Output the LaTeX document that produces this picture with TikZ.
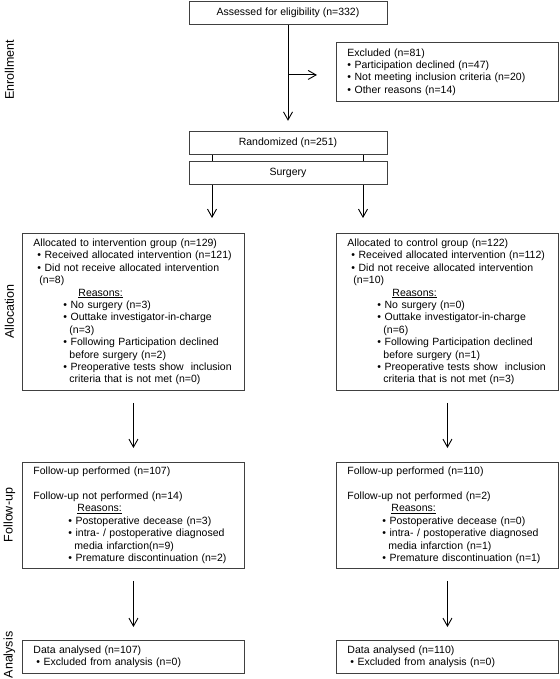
\documentclass[tikz,border=0pt]{standalone}
\usepackage{fontspec}
\setmainfont{Liberation Sans}
\usetikzlibrary{arrows.meta}
\definecolor{boxgray}{gray}{0.25}
\tikzset{
  txt/.style={font=\fontsize{10.5}{12.4}\selectfont},
  box/.style={draw=boxgray, line width=0.9pt, txt, inner ysep=0pt},
  midbox/.style={box, minimum width=198pt, minimum height=23.5pt, inner xsep=0pt},
  listbox/.style={box, anchor=north west, minimum width=222pt, text width=200pt, inner xsep=11pt, align=left},
  phase/.style={font=\fontsize{12.5}{14}\selectfont, rotate=90},
  arr/.style={-{Straight Barb[length=8pt,width=9pt]}, line width=0.9pt},
}
\begin{document}
\begin{tikzpicture}[x=1pt,y=1pt]
    \useasboundingbox (0,0) rectangle (559,-679);

    \node[phase] (enrol) at (9.5,-70){Enrollment};
    \node[phase] (alloc) at (9.5,-311.5){Allocation};
    \node[phase] (follow) at (9.5,-515){Follow-up};
    \node[phase] (anal) at (9.5,-655){Analysis};

    \node[midbox] (assess) at (288,-13){Assessed for eligibility (n=332)};
    \node[listbox, minimum height=59pt] (excl) at (336,-42){Excluded (n=81)\\
        \textbullet\ Participation declined (n=47)\\
        \textbullet\ Not meeting inclusion criteria (n=20)\\
        \textbullet\ Other reasons (n=14)};
    \node[midbox] (rand) at (288,-143){Randomized (n=251)};
    \node[midbox] (surg) at (288,-173){Surgery};

    \node[listbox, minimum height=157pt] (allocI) at (22,-233){Allocated to intervention group (n=129)\\
        \hspace*{4pt}\textbullet\ Received allocated intervention (n=121)\\
        \hspace*{4pt}\textbullet\ Did not receive allocated intervention\\
        \hspace*{6pt}(n=8)\\
        \hspace*{45pt}\underline{Reasons:}\\
        \hspace*{30pt}\textbullet\ No surgery (n=3)\\
        \hspace*{30pt}\textbullet\ Outtake investigator-in-charge\\
        \hspace*{36pt}(n=3)\\
        \hspace*{30pt}\textbullet\ Following Participation declined\\
        \hspace*{36pt}before surgery (n=2)\\
        \hspace*{30pt}\textbullet\ Preoperative tests show~ inclusion\\
        \hspace*{36pt}criteria that is not met (n=0)};
    \node[listbox, minimum height=157pt] (allocC) at (336,-233){Allocated to control group (n=122)\\
        \hspace*{4pt}\textbullet\ Received allocated intervention (n=112)\\
        \hspace*{4pt}\textbullet\ Did not receive allocated intervention\\
        \hspace*{6pt}(n=10)\\
        \hspace*{45pt}\underline{Reasons:}\\
        \hspace*{30pt}\textbullet\ No surgery (n=0)\\
        \hspace*{30pt}\textbullet\ Outtake investigator-in-charge\\
        \hspace*{36pt}(n=6)\\
        \hspace*{30pt}\textbullet\ Following Participation declined\\
        \hspace*{36pt}before surgery (n=1)\\
        \hspace*{30pt}\textbullet\ Preoperative tests show~ inclusion\\
        \hspace*{36pt}criteria that is not met (n=3)};

    \node[listbox, minimum height=106pt] (followI) at (22,-462){Follow-up performed (n=107)\\[12.4pt]
        Follow-up not performed (n=14)\\
        \hspace*{44pt}\underline{Reasons:}\\
        \hspace*{35pt}\textbullet\ Postoperative decease (n=3)\\
        \hspace*{35pt}\textbullet\ intra- / postoperative diagnosed\\
        \hspace*{41pt}media infarction(n=9)\\
        \hspace*{35pt}\textbullet\ Premature discontinuation (n=2)};
    \node[listbox, minimum height=106pt] (followC) at (336,-462){Follow-up performed (n=110)\\[12.4pt]
        Follow-up not performed (n=2)\\
        \hspace*{44pt}\underline{Reasons:}\\
        \hspace*{35pt}\textbullet\ Postoperative decease (n=0)\\
        \hspace*{35pt}\textbullet\ intra- / postoperative diagnosed\\
        \hspace*{41pt}media infarction (n=1)\\
        \hspace*{35pt}\textbullet\ Premature discontinuation (n=1)};

    \node[listbox, minimum height=33pt] (analI) at (22,-640){Data analysed (n=107)\\
        \hspace*{3pt}\textbullet\ Excluded from analysis (n=0)};
    \node[listbox, minimum height=33pt] (analC) at (336,-640){Data analysed (n=110)\\
        \hspace*{3pt}\textbullet\ Excluded from analysis (n=0)};

    \coordinate (armL) at (212,-218);
    \coordinate (armR) at (363,-218);

    \draw[arr, shorten >=10pt] (assess) -- (rand);
    \draw[arr, shorten >=19pt] ([yshift=-3pt]assess.south |- excl.west) -- ([yshift=-3pt]excl.west);
    \draw[line width=0.9pt] (rand.south -| armL) -- (surg.north -| armL);
    \draw[line width=0.9pt] (rand.south -| armR) -- (surg.north -| armR);
    \draw[arr] (surg.south -| armL) -- (armL);
    \draw[arr] (surg.south -| armR) -- (armR);
    \draw[arr, shorten <=12pt, shorten >=14pt] (allocI) -- (followI);
    \draw[arr, shorten <=12pt, shorten >=14pt] (allocC) -- (followC);
    \draw[arr, shorten <=12pt, shorten >=13pt] (followI) -- (analI);
    \draw[arr, shorten <=12pt, shorten >=13pt] (followC) -- (analC);
\end{tikzpicture}
\end{document}
